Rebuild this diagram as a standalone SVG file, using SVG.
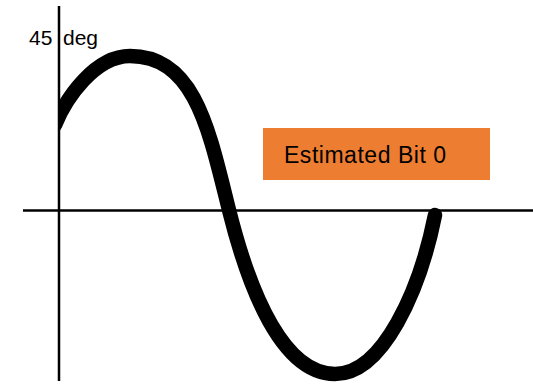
<svg xmlns="http://www.w3.org/2000/svg" width="533" height="384" viewBox="0 0 533 384">
  <style>
    .axis { stroke: #000; stroke-width: 2.5; fill: none; }
    .wave { stroke: #000; stroke-width: 14.5; fill: none; stroke-linecap: round; stroke-linejoin: round; }
    .lbl { font-family: "Liberation Sans", Arial, sans-serif; fill: #000; }
  </style>
  <defs>
    <clipPath id="rightOfAxis">
      <rect x="58" y="0" width="475" height="384"/>
    </clipPath>
  </defs>
  <rect width="533" height="384" fill="#fff"/>
  <g id="axes">
    <line class="axis" x1="59" y1="6" x2="59" y2="381"/>
    <line class="axis" x1="23" y1="210.5" x2="533" y2="210.5"/>
  </g>
  <g id="wave" clip-path="url(#rightOfAxis)">
    <path class="wave" d="M55,125 C66,98 95,56 130,56 C195,56 209,130 229,210 C251,298 285,374 335,374 C383,374 420,290 435,215"/>
  </g>
  <g id="angle-label">
    <text class="lbl" x="29" y="45" font-size="21">45 <tspan x="63">deg</tspan></text>
  </g>
  <g id="estimate-box">
    <rect x="263" y="128" width="227" height="52" fill="#ED7D31"/>
    <text class="lbl" x="284" y="163" font-size="23" textLength="162" lengthAdjust="spacing">Estimated Bit 0</text>
  </g>
</svg>
